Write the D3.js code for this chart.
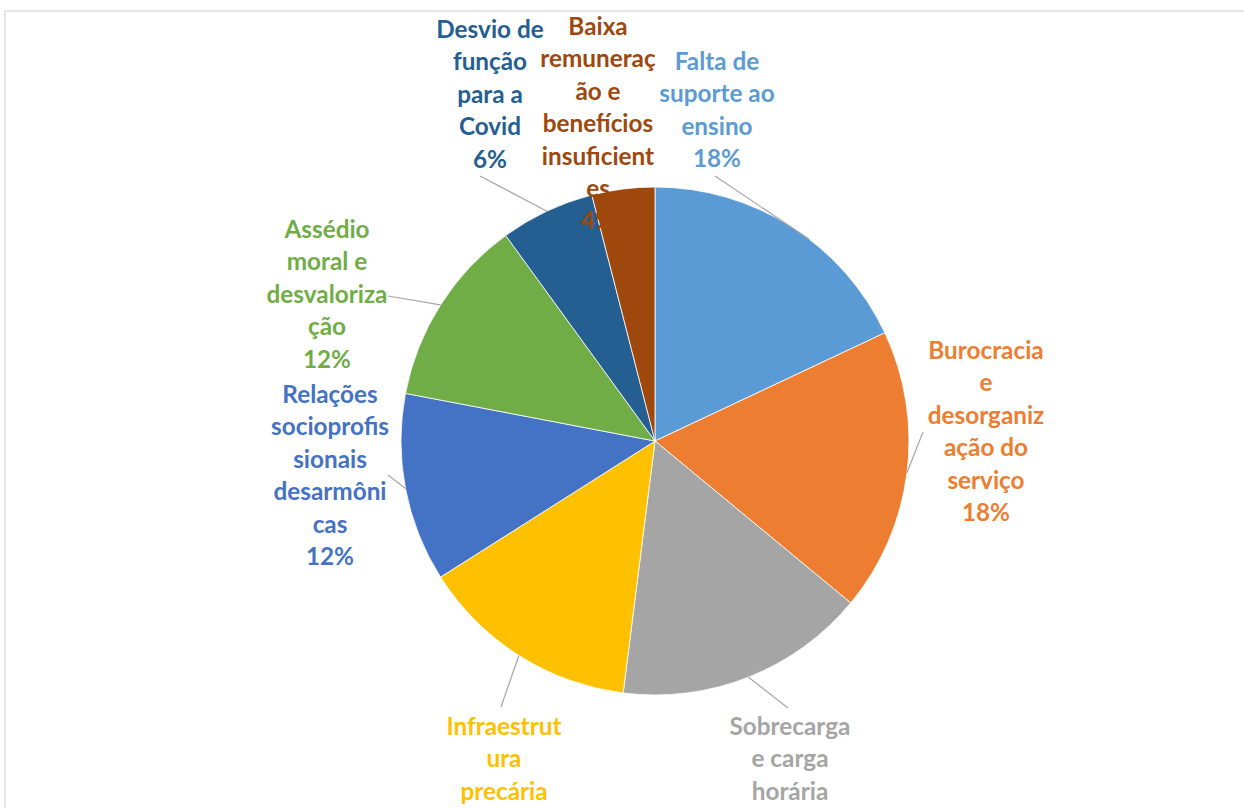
<!DOCTYPE html>
<html><head><meta charset="utf-8">
<script src="https://cdn.jsdelivr.net/npm/d3@7"></script>
<style>html,body{margin:0;padding:0;background:#fff;overflow:hidden}svg{display:block}</style>
</head><body>
<svg id="chart" width="1244" height="808"></svg>
<script>
// ---- data ----
const categories = [
  "Falta de suporte ao ensino",
  "Burocracia e desorganização do serviço",
  "Sobrecarga e carga horária",
  "Infraestrutura precária",
  "Relações socioprofissionais desarmônicas",
  "Assédio moral e desvalorização",
  "Desvio de função para a Covid",
  "Baixa remuneração e benefícios insuficientes"
];
const values = [18, 18, 16, 14, 12, 12, 6, 4];
const colors = ["#5B9BD5","#ED7D31","#A5A5A5","#FFC000","#4472C4","#70AD47","#255E91","#9E480E"];
const labelLines = [
  ["Falta de","suporte ao","ensino"],
  ["Burocracia","e","desorganiz","ação do","serviço"],
  ["Sobrecarga","e carga","horária"],
  ["Infraestrut","ura","precária"],
  ["Relações","socioprofis","sionais","desarmôni","cas"],
  ["Assédio","moral e","desvaloriza","ção"],
  ["Desvio de","função","para a","Covid"],
  ["Baixa","remuneraç","ão e","benefícios","insuficient","es"]
];

// ---- layout (not data) ----
const cx = 655, cy = 441, R = 254;
const lineH = 32.4;
const labelLayout = [
  {x:717, y:70,  lx:715, ly:176, edgeAngle: 37.5},
  {x:986, y:359, lx:923, ly:432},
  {x:790, y:735, lx:788, ly:708},
  {x:504, y:735, lx:501, ly:707},
  {x:330, y:403, lx:388, ly:475},
  {x:327, y:238, lx:388, ly:296},
  {x:490, y:38,  lx:480, ly:176},
  {x:598, y:35,  lx:null, ly:null}
];

const svg = d3.select("#chart");
// frame
svg.append("rect").attr("x",5).attr("y",11).attr("width",1280).attr("height",840)
  .attr("fill","none").attr("stroke","#e6e6e6").attr("stroke-width",2);

const pie = d3.pie().sort(null).value(d => d)
  .startAngle(0).endAngle(2*Math.PI);
const arcs = pie(values);
const arc = d3.arc().innerRadius(0).outerRadius(R);

const g = svg.append("g").attr("transform", `translate(${cx},${cy})`);
g.selectAll("path.slice").data(arcs).enter().append("path")
  .attr("class","slice")
  .attr("d", arc)
  .attr("fill", (d,i) => colors[i])
  .attr("stroke","#fff").attr("stroke-width",0.8);

// leader lines
const fmt = d => d3.format(".0%")(d/100);
arcs.forEach((a,i) => {
  const L = labelLayout[i];
  if (L.lx == null) return;
  const ang = L.edgeAngle != null ? L.edgeAngle*Math.PI/180 : (a.startAngle + a.endAngle)/2;
  const ex = cx + R*Math.sin(ang), ey = cy - R*Math.cos(ang);
  svg.append("line").attr("x1",L.lx).attr("y1",L.ly).attr("x2",ex).attr("y2",ey)
    .attr("stroke","#a6a6a6").attr("stroke-width",1.2);
});

// labels
arcs.forEach((a,i) => {
  const L = labelLayout[i];
  const lines = labelLines[i].concat([fmt(values[i])]);
  const t = svg.append("text")
    .attr("text-anchor","middle")
    .attr("fill", colors[i])
    .style("font-family","Lato, 'Open Sans', sans-serif")
    .style("font-weight","700")
    .style("font-size","24.3px");
  lines.forEach((s,k) => {
    t.append("tspan").attr("x",L.x).attr("y",L.y + k*lineH).text(s);
  });
});
</script>
</body></html>
